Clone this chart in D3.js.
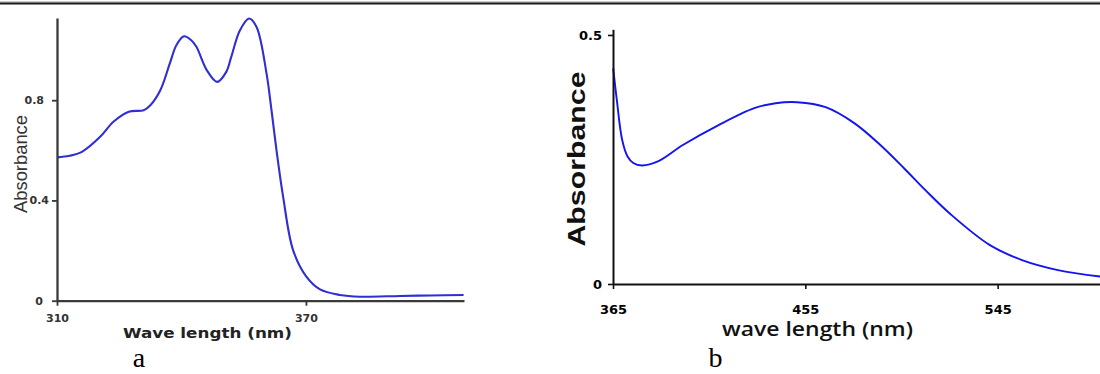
<!DOCTYPE html>
<html>
<head>
<meta charset="utf-8">
<script src="https://cdn.jsdelivr.net/npm/d3@7/dist/d3.min.js"></script>
<style>
  html, body { margin: 0; padding: 0; background: #fff; }
  svg { display: block; }
</style>
</head>
<body>
<svg id="fig" width="1100" height="374"></svg>
<script>
// Panel a: UV absorption spectrum
const wavelengthA = [310, 313, 316, 320.4, 323.6, 327.3, 330.9, 332.5, 334.9, 337.2, 338.8, 340.6, 342.3, 343.6, 346.1, 348.6, 350.8, 352.0, 354.1, 356.3, 358.1, 360.5, 361.7, 362.9, 364.5, 366.9, 370.1, 373.4, 378.2, 383.0, 392.7, 400, 408];
const absorbanceA = [0.572, 0.578, 0.594, 0.654, 0.714, 0.754, 0.760, 0.780, 0.840, 0.947, 1.020, 1.055, 1.040, 1.013, 0.920, 0.873, 0.913, 0.973, 1.079, 1.126, 1.092, 0.907, 0.760, 0.601, 0.415, 0.202, 0.096, 0.045, 0.023, 0.016, 0.019, 0.021, 0.023];
const xTicksA = [310, 370];
const yTicksA = [0, 0.4, 0.8];

// Panel b: visible absorption spectrum
const wavelengthB = [365.1, 366.8, 369.3, 371.8, 374.5, 378.5, 386.0, 397.7, 414.4, 431.1, 441.1, 451.2, 464.5, 477.9, 489.6, 501.3, 511.3, 523.0, 541.4, 556.4, 573.2, 592.9];
const absorbanceB = [0.433, 0.369, 0.289, 0.256, 0.243, 0.238, 0.246, 0.279, 0.319, 0.353, 0.363, 0.365, 0.355, 0.323, 0.281, 0.232, 0.188, 0.140, 0.078, 0.048, 0.028, 0.015];
const xTicksB = [365, 455, 545];
const yTicksB = [0, 0.5];

const svg = d3.select("#fig");

// rule across the top of the figure
svg.append("rect").attr("x", 0).attr("y", 1.5).attr("width", 1100).attr("height", 1).attr("fill", "#999");
svg.append("rect").attr("x", 0).attr("y", 2.5).attr("width", 1100).attr("height", 2).attr("fill", "#1a1a1a");

function panel(opts) {
  const g = svg.append("g");
  const x = d3.scaleLinear().domain(opts.xDomain).range(opts.xRange);
  const y = d3.scaleLinear().domain(opts.yDomain).range(opts.yRange);

  const line = d3.line()
    .x((d, i) => x(opts.xs[i]))
    .y((d, i) => y(opts.ys[i]))
    .curve(d3.curveCatmullRom.alpha(0.5));

  g.append("path")
    .datum(opts.ys)
    .attr("d", line)
    .attr("fill", "none")
    .attr("stroke", opts.lineColor)
    .attr("stroke-width", opts.lineWidth)
    .attr("stroke-linejoin", "round");

  const xAxis = d3.axisBottom(x).tickValues(opts.xTicks).tickSize(5).tickSizeOuter(0)
    .tickPadding(opts.xPad).tickFormat(d3.format("d"));
  const yAxis = d3.axisLeft(y).tickValues(opts.yTicks).tickSize(5).tickSizeOuter(0)
    .tickPadding(opts.yPad).tickFormat(d => d === 0 ? "0" : d3.format(".1f")(d));

  const gx = g.append("g").attr("transform", `translate(0,${opts.yRange[0]})`).call(xAxis);
  const gy = g.append("g").attr("transform", `translate(${opts.xRange[0]},0)`).call(yAxis);

  [gx, gy].forEach(a => {
    a.selectAll("path.domain").attr("stroke", opts.axisColor).attr("stroke-width", opts.axisWidth);
    a.selectAll(".tick line").attr("stroke", opts.axisColor).attr("stroke-width", opts.axisWidth * 0.8);
    a.selectAll(".tick text")
      .attr("font-family", "DejaVu Sans")
      .attr("font-weight", "bold")
      .attr("font-size", opts.tickFont)
      .attr("fill", opts.tickColor);
  });
  return { x, y, g, gx, gy };
}

// ---- panel a ----
const pa = panel({
  xs: wavelengthA, ys: absorbanceA,
  xDomain: [310, 408.1], xRange: [57, 464],
  yDomain: [0, 1.128], yRange: [300.7, 18],
  xTicks: xTicksA, yTicks: yTicksA,
  lineColor: "#2f2fd2", lineWidth: 2.1,
  axisColor: "#3a3a3a", axisWidth: 2.3,
  tickFont: 11, tickColor: "#333",
  xPad: 9, yPad: 8
});
// the middle label sits right against its tick
pa.gy.selectAll(".tick text").filter(d => d === 0.4).attr("x", -8);
pa.gy.selectAll(".tick text").filter(d => d === 0).attr("x", -14);

svg.append("text")
  .attr("x", 123).attr("y", 338)
  .attr("textLength", 169).attr("lengthAdjust", "spacingAndGlyphs")
  .attr("font-family", "DejaVu Sans").attr("font-weight", "bold").attr("font-size", 14)
  .attr("fill", "#222")
  .text("Wave length (nm)");

svg.append("text")
  .attr("transform", "translate(27,164) rotate(-90)")
  .attr("text-anchor", "middle")
  .attr("textLength", 98).attr("lengthAdjust", "spacingAndGlyphs")
  .attr("font-family", "Liberation Sans").attr("font-size", 18.5)
  .attr("fill", "#333")
  .text("Absorbance");

svg.append("text")
  .attr("x", 139).attr("y", 367)
  .attr("text-anchor", "middle")
  .attr("font-family", "Liberation Serif").attr("font-size", 28)
  .attr("fill", "#000")
  .text("a");

// ---- panel b ----
const pb = panel({
  xs: wavelengthB, ys: absorbanceB,
  xDomain: [365, 592.9], xRange: [613, 1100],
  yDomain: [0, 0.5114], yRange: [284, 29.3],
  xTicks: xTicksB, yTicks: yTicksB,
  lineColor: "#1414f0", lineWidth: 1.9,
  axisColor: "#111", axisWidth: 2,
  tickFont: 13, tickColor: "#000",
  xPad: 16, yPad: 6
});

svg.append("text")
  .attr("x", 722).attr("y", 336)
  .attr("textLength", 191).attr("lengthAdjust", "spacingAndGlyphs")
  .attr("font-family", "Open Sans").attr("font-weight", 600).attr("font-size", 19.5)
  .attr("fill", "#111")
  .text("wave length (nm)");

svg.append("text")
  .attr("transform", "translate(585,159) rotate(-90)")
  .attr("text-anchor", "middle")
  .attr("textLength", 175).attr("lengthAdjust", "spacingAndGlyphs")
  .attr("font-family", "Liberation Sans").attr("font-weight", "bold").attr("font-size", 23)
  .attr("fill", "#111")
  .text("Absorbance");

svg.append("text")
  .attr("x", 715.5).attr("y", 367)
  .attr("text-anchor", "middle")
  .attr("font-family", "Liberation Serif").attr("font-size", 28)
  .attr("fill", "#000")
  .text("b");
</script>
</body>
</html>
